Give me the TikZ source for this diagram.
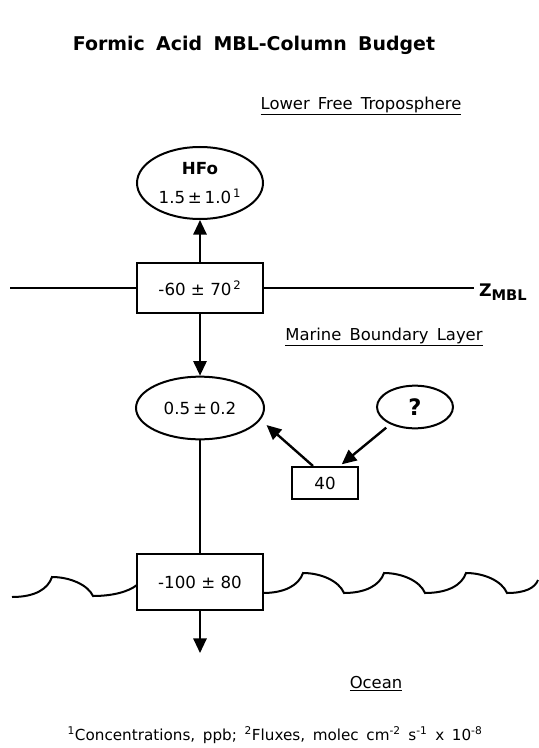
\documentclass[tikz,border=0pt]{standalone}
\usepackage{fontspec}
\setmainfont{DejaVu Sans}
\usetikzlibrary{shapes.geometric,arrows.meta}

\begin{document}
\begin{tikzpicture}[
    x=0.75pt, y=-0.75pt,
    line width=1.5pt,
    >={Triangle[length=11pt,width=10pt]},
    conc/.style={draw, ellipse, inner sep=0pt, align=center, font=\fontsize{12.5}{15}\selectfont},
    flux/.style={draw, rectangle, inner sep=0pt, font=\fontsize{12.5}{15}\selectfont},
    region/.style={font=\fontsize{12.3}{14}\selectfont},
    arrow/.style={->}
]
  \useasboundingbox (0,0) rectangle (538,748);

  \node[font=\bfseries\fontsize{14.2}{17}\selectfont] (title) at (254,45) {Formic\hspace{0.6em}Acid\hspace{0.6em}MBL-Column\hspace{0.6em}Budget};
  \node[region] (lft) at (361,106) {\underline{Lower\hspace{0.5em}Free\hspace{0.5em}Troposphere}};
  \node[region] (mbllabel) at (384,337) {\underline{Marine\hspace{0.5em}Boundary\hspace{0.5em}Layer}};
  \node[region] (ocn) at (376,684) {\underline{Ocean}};

  \node[conc, minimum width=94.5pt, minimum height=54pt] (hfo) at (200,183) {\textbf{HFo}\\[7pt]1.5\,±\,1.0\textsuperscript{\,1}};
  \node[flux, minimum width=95pt, minimum height=38pt] (fxtop) at (200,288) {-60 ± 70\textsuperscript{\,2}};
  \node[conc, minimum width=96pt, minimum height=47pt] (mbl) at (200,408) {0.5\,±\,0.2};
  \node[conc, minimum width=57pt, minimum height=32pt, font=\bfseries\fontsize{17}{19}\selectfont] (src) at (415,407) {?};
  \node[flux, minimum width=49pt, minimum height=24pt] (prod) at (325,483) {40};
  \node[flux, minimum width=94.5pt, minimum height=42pt] (fxsea) at (200,582) {-100 ± 80};

  \node[font=\bfseries\fontsize{13}{15}\selectfont, anchor=west, inner sep=0pt] (zmbl) at (478,292) {Z\raisebox{-0.45ex}{\fontsize{11}{13}\selectfont MBL}};
  \coordinate (zleft) at (10,288);
  \coordinate (ocean) at (200,653);

  % top of the boundary layer
  \draw (zleft) -- (fxtop.west);
  \draw[shorten >=3pt] (fxtop.east) -- (fxtop.east -| zmbl.west);

  \draw[arrow] (fxtop) -- (hfo);
  \draw[arrow] (fxtop) -- (mbl);
  \draw (mbl) -- (fxsea);
  \draw[arrow] (fxsea) -- (ocean);
  \draw[arrow, line width=1.8pt, shorten >=6pt] ([xshift=-9pt]prod.north) -- (mbl.-11);
  \draw[arrow, line width=1.8pt, shorten <=4pt, shorten >=2pt] (src.215) -- ([xshift=11pt]prod.north);

  % sea surface
  \draw (12,597) .. controls (35,597) and (48,589) .. (52,577)
    .. controls (70,577) and (88,585) .. (93,596)
    .. controls (112,596) and (128,592) .. (137,585);
  \draw (263,593) foreach \x in {263,344,426} {
      .. controls (\x+22,593) and (\x+36,585) .. (\x+40,573)
      .. controls (\x+58,573) and (\x+76,581) .. (\x+81,593)}
    .. controls (525,593) and (535,588) .. (538,580);

  \node[font=\fontsize{11.4}{13}\selectfont] (note) at (275,735) {\textsuperscript{1}Concentrations,\hspace{0.5em}ppb;\hspace{0.5em}\textsuperscript{2}Fluxes,\hspace{0.5em}molec\hspace{0.5em}cm\textsuperscript{-2}\hspace{0.5em}s\textsuperscript{-1}\hspace{0.5em}x\hspace{0.5em}10\textsuperscript{-8}};
\end{tikzpicture}
\end{document}
